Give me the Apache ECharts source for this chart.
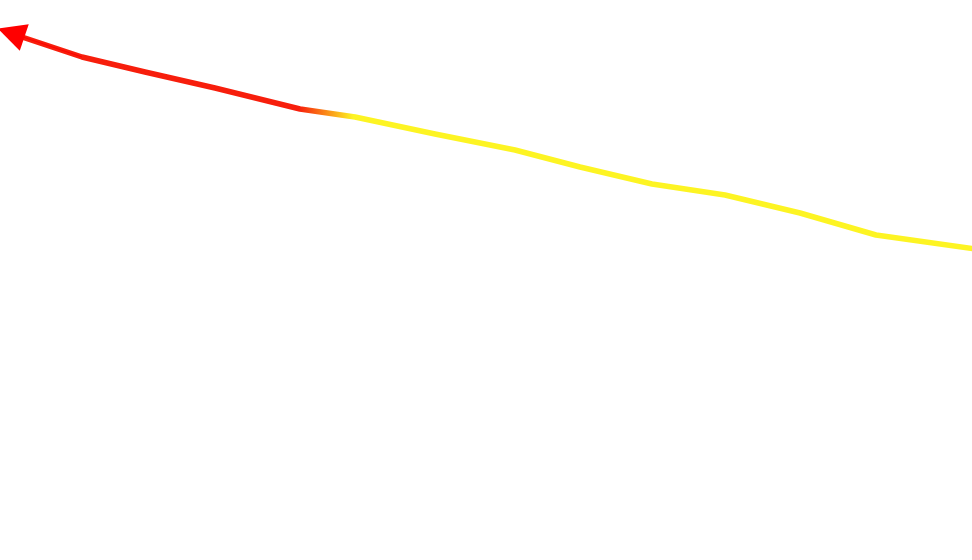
<!DOCTYPE html>
<html>
<head>
<meta charset="utf-8">
<script src="https://cdn.jsdelivr.net/npm/echarts@6/dist/echarts.min.js"></script>
<style>
  html, body { margin: 0; padding: 0; background: #fff; }
  #main { width: 972px; height: 560px; }
</style>
</head>
<body>
<div id="main"></div>
<script>
// path points (x grows right, y grows down)
var xs = [4, 82, 145, 215, 300, 355, 435, 515, 580, 652, 725, 800, 876, 990];
var ys = [31, 57, 72, 88, 109, 117, 134, 150, 167, 184, 195, 213, 235, 251];
// middle of the arrow head
var headX = 11;
var headY = 33;

var chartDom = document.getElementById("main");
var myChart = echarts.init(chartDom);

var coords = [];
for (var i = 0; i < xs.length; i++) {
  coords.push([xs[i], ys[i]]);
}

var option = {
  animation: false,
  grid: { left: 0, right: 0, top: 0, bottom: 0 },
  xAxis: { type: "value", min: 0, max: 972, show: false },
  yAxis: { type: "value", min: 0, max: 560, inverse: true, show: false },
  series: [
    {
      type: "lines",
      coordinateSystem: "cartesian2d",
      polyline: true,
      lineStyle: {
        width: 5.5,
        opacity: 1,
        cap: "butt",
        join: "round",
        color: new echarts.graphic.LinearGradient(0, 0, 1, 0, [
          { offset: 0, color: "#f71e0c" },
          { offset: 0.3, color: "#f71e0c" },
          { offset: 0.355, color: "#fdf423" },
          { offset: 1, color: "#fdf423" }
        ])
      },
      data: [{ coords: coords }]
    },
    {
      // arrow head on the first segment
      type: "lines",
      coordinateSystem: "cartesian2d",
      symbol: ["none", "triangle"],
      symbolSize: [38, 28],
      lineStyle: { width: 1, opacity: 1, color: "#ff0000" },
      data: [{ coords: [coords[1], [headX, headY]] }]
    }
  ]
};

option && myChart.setOption(option);
</script>
</body>
</html>
